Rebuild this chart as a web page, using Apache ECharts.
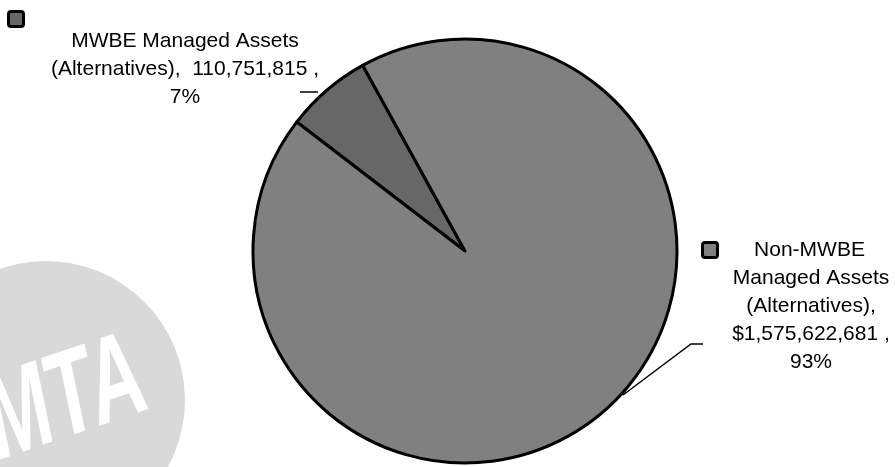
<!DOCTYPE html>
<html>
<head>
<meta charset="utf-8">
<script src="https://cdn.jsdelivr.net/npm/echarts@6/dist/echarts.min.js"></script>
<style>
  html, body { margin: 0; padding: 0; background: #ffffff; }
  #chart { width: 895px; height: 467px; }
</style>
</head>
<body>
<div id="chart"></div>
<script>
const categories = ['MWBE Managed Assets (Alternatives)', 'Non-MWBE Managed Assets (Alternatives)'];
const values = [110751815, 1575622681];
const valueLabels = ['110,751,815', '$1,575,622,681'];
const percentLabels = ['7%', '93%'];
const sliceColors = ['#676767', '#808080'];

const chart = echarts.init(document.getElementById('chart'), null, { renderer: 'canvas' });

function labelText(i) {
  if (i === 0) {
    return '{sqA|}\n' +
      '{t|MWBE Managed Assets}\n' +
      '{t|(Alternatives),  ' + valueLabels[0] + ' ,}\n' +
      '{t|' + percentLabels[0] + '}';
  }
  return '{sqB|}{t|Non-MWBE}{sp|}\n' +
    '{t|Managed Assets}\n' +
    '{t|(Alternatives),}\n' +
    '{t|' + valueLabels[1] + ' ,}\n' +
    '{t|' + percentLabels[1] + '}';
}

const labelBoxes = [
  { x: 185, y: 11, width: 350, line: [[318, 92], [309, 92], [300, 92]] },
  { x: 811, y: 236, width: 214, line: [[623, 395], [691, 344], [703, 344]] }
];

const option = {
  animation: false,
  backgroundColor: '#ffffff',
  graphic: [
    {
      type: 'circle',
      z: 0,
      silent: true,
      shape: { cx: 46, cy: 400, r: 139 },
      style: { fill: '#d9d9d9' }
    },
    {
      type: 'text',
      z: 1,
      silent: true,
      x: 66,
      y: 402,
      rotation: 0.33,
      scaleX: 0.78,
      scaleY: 1.2,
      style: {
        text: 'MTA',
        fill: '#ffffff',
        font: 'italic bold 100px "Liberation Sans"',
        textAlign: 'center',
        textVerticalAlign: 'middle'
      }
    }
  ],
  series: [{
    type: 'pie',
    center: [465, 251],
    radius: 212,
    startAngle: 142.5,
    clockwise: true,
    avoidLabelOverlap: false,
    z: 5,
    itemStyle: { borderColor: '#000000', borderWidth: 3 },
    emphasis: { disabled: true },
    label: {
      show: true,
      position: 'outside',
      formatter: function (p) { return labelText(p.dataIndex); },
      rich: {
        t: { fontFamily: 'Liberation Sans', fontSize: 21, lineHeight: 28, color: '#000000', align: 'center' },
        sqA: { width: 12, height: 12, backgroundColor: sliceColors[0], borderColor: '#000000', borderWidth: 3, borderRadius: 1, align: 'left', lineHeight: 16 },
        sqB: { width: 12, height: 12, backgroundColor: sliceColors[1], borderColor: '#000000', borderWidth: 3, borderRadius: 1, align: 'left' },
        sp: { width: 15, align: 'right' }
      }
    },
    labelLine: {
      show: true,
      lineStyle: { color: '#000000', width: 1.5 }
    },
    labelLayout: function (params) {
      const b = labelBoxes[params.dataIndex];
      return {
        x: b.x,
        y: b.y,
        width: b.width,
        align: 'center',
        verticalAlign: 'top',
        labelLinePoints: b.line
      };
    },
    data: categories.map(function (name, i) {
      return {
        name: name,
        value: values[i],
        itemStyle: { color: sliceColors[i] },
        label: { width: labelBoxes[i].width }
      };
    })
  }]
};

chart.setOption(option);
</script>
</body>
</html>
